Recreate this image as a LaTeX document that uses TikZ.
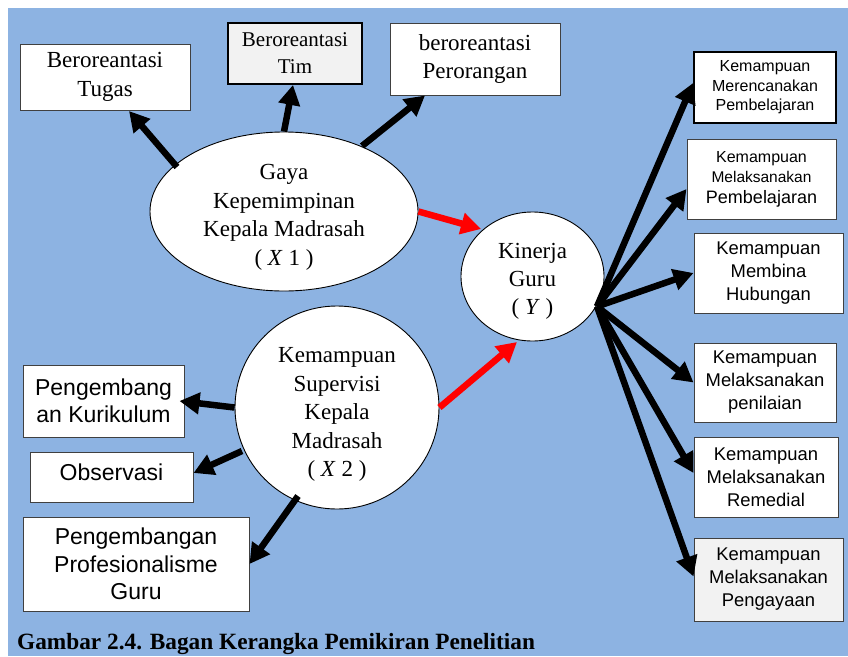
\documentclass[tikz,border=0pt]{standalone}
\usepackage{fontspec}
\setmainfont{Liberation Serif}
\setsansfont{Liberation Sans}
\usetikzlibrary{shapes.geometric,arrows.meta,calc}
\definecolor{bgblue}{HTML}{8DB3E2}
\definecolor{boxline}{HTML}{404040}
\definecolor{lightfill}{HTML}{F2F2F2}
\begin{document}
\begin{tikzpicture}[x=1pt,y=-1pt,
  box/.style={rectangle,draw=boxline,line width=1pt,fill=white,inner sep=0pt},
  thickbox/.style={box,draw=black,line width=1.8pt},
  ell/.style={ellipse,draw=black,line width=0.9pt,fill=white,inner sep=0pt},
  txt/.style={inner sep=0pt,align=center},
  serif/.style={align=center,font=\fontsize{23}{28.5}\selectfont},
  sans/.style={align=center,font=\sffamily\fontsize{23}{27.5}\selectfont},
  sanss/.style={align=center,font=\sffamily\fontsize{18.4}{23}\selectfont},
  blk/.style={line width=6.5pt,-{Triangle[length=20pt,width=21pt]}},
  redarr/.style={blk,color=red}]
\useasboundingbox (0,0) rectangle (848,656);
\fill[bgblue] (8,8) rectangle (848,656);

% top boxes
\node[box,serif,minimum width=170pt,minimum height=66pt] (tugas) at (105,77) {Beroreantasi\\Tugas};
\node[thickbox,fill=lightfill,align=center,font=\fontsize{21}{27}\selectfont,minimum width=134pt,minimum height=61pt] (tim) at (295,53.5) {Beroreantasi\\Tim};
\node[box,serif,minimum width=170pt,minimum height=72pt] (pero) at (475,59) {beroreantasi\\Perorangan};

% ellipses
\node[ell,minimum width=268pt,minimum height=159pt] (gaya) at (284,211.5) {};
\node[txt,serif] (gayatext) at ([yshift=-6pt]gaya.center) {Gaya\\Kepemimpinan\\Kepala Madrasah\\( \textit{X} 1 )};
\node[ell,minimum width=143pt,minimum height=129pt] (kin) at (532.5,276.5) {};
\node[txt,align=center,font=\fontsize{23}{28}\selectfont] (kintext) at ([yshift=-5pt]kin.center) {Kinerja\\Guru\\( \textit{Y} )};
\node[ell,minimum width=204pt,minimum height=203pt] (sup) at (337,407.5) {};
\node[txt,serif] (suptext) at ([yshift=-7pt]sup.center) {Kemampuan\\Supervisi\\Kepala\\Madrasah\\( \textit{X} 2 )};

% left boxes
\node[box,sans,minimum width=161pt,minimum height=72pt] (kur) at (103.5,401) {Pengembang\\an Kurikulum};
\node[box,minimum width=163pt,minimum height=50pt] (obs) at (111.5,477) {};
\node[txt,sans] (obstext) at ([yshift=5pt]obs.center) {Observasi};
\node[box,sans,minimum width=226pt,minimum height=94pt] (prof) at (136,564) {Pengembangan\\Profesionalisme\\Guru};

% right boxes
\node[thickbox,align=center,font=\sffamily\fontsize{16}{19.5}\selectfont,minimum width=142pt,minimum height=71pt] (r1) at (765,87.5) {Kemampuan\\Merencanakan\\Pembelajaran};
\node[box,align=center,font=\sffamily\fontsize{16}{20.5}\selectfont,minimum width=149pt,minimum height=80pt] (r2) at (761.5,179) {Kemampuan\\{\fontsize{15.5}{20.5}\selectfont Melaksanakan}\\{\fontsize{18}{22}\selectfont Pembelajaran}};
\node[box,sanss,minimum width=149pt,minimum height=80pt] (r3) at (768.5,273) {Kemampuan\\Membina\\Hubungan};
\node[box,sanss,minimum width=142pt,minimum height=79pt] (r4) at (765,382.5) {Kemampuan\\Melaksanakan\\penilaian};
\node[box,sanss,minimum width=144pt,minimum height=80pt] (r5) at (766,477) {Kemampuan\\Melaksanakan\\Remedial};
\node[box,sanss,fill=lightfill,minimum width=149pt,minimum height=83pt] (r6) at (768.5,579.5) {Kemampuan\\Melaksanakan\\Pengayaan};

% caption
\node[anchor=base west,inner sep=0pt,font=\bfseries\fontsize{23.3}{28}\selectfont] (cap) at (17,649) {Gambar 2.4. Bagan Kerangka Pemikiran Penelitian};

% arrows
\draw[blk] ($(gaya.center)+(-107,-44.5)$) -- ($(tugas.center)+(24,34)$);
\draw[blk] (gaya.north) -- ($(tim.south)+(-2,0)$);
\draw[blk] ($(gaya.center)+(78,-65.5)$) -- ($(pero.south)+(-50,0)$);
\draw[redarr] (gaya.east) -- ($(kin.center)+(-51.5,-47.5)$);
\draw[redarr] (sup.east) -- ($(kin.center)+(-15.5,65.5)$);
\draw[blk] (sup.west) -- ($(kur.east)+(-5,0)$);
\draw[blk] ($(sup.center)+(-95,43.5)$) -- ($(obs.east)+(0,-4)$);
\draw[blk] ($(sup.center)+(-39,88.5)$) -- (prof.east);

\coordinate (hub) at ($(kin.center)+(64.5,30)$);
\draw[blk] (hub) -- ($(r1.west)+(0,-4.5)$);
\draw[blk] (hub) -- ($(r2.west)+(0,10)$);
\draw[blk] (hub) -- (r3.west);
\draw[blk] (hub) -- (r4.west);
\draw[blk] (hub) -- ($(r5.west)+(0,-4)$);
\draw[blk] (hub) -- ($(r6.west)+(0,-3)$);
\end{tikzpicture}
\end{document}
